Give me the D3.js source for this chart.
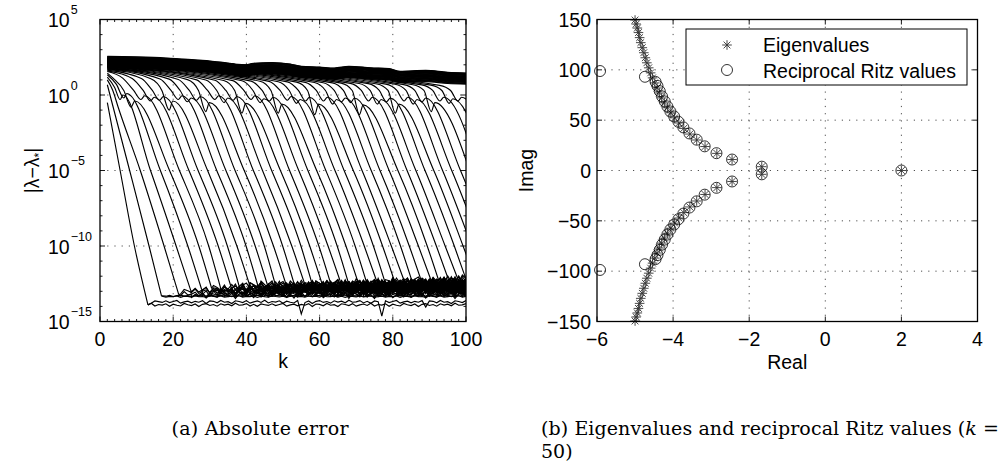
<!DOCTYPE html>
<html>
<head>
<meta charset="utf-8">
<script src="https://cdn.jsdelivr.net/npm/d3@7"></script>
<style>
  body { margin: 0; background: #fff; }
  svg text { font-family: "Liberation Sans", Arial, sans-serif; font-size: 19.5px; fill: #000; }
  svg text.caption { font-family: "DejaVu Serif", serif; font-size: 19px; }
</style>
</head>
<body>
<svg id="fig" width="1000" height="461"></svg>
<script>
// ---------- panel (a): absolute error, values are log10 |lambda - lambda*| ----------
// key points [k, log10 err] of each converging (conjugate pair) error curve
const convergedPaths = [
  [[2, -0.5], [5.5, -5], [9.4, -10], [13.1, -13.9]],
  [[2, 0.68], [8.1, -5], [13.4, -10], [16.8, -13.3]],
  [[2, 1.0], [3.5, 0.3], [4.9, -0.76], [11, -5], [17.5, -10], [21.5, -13.2]],
  [[2, 1.18], [4, 0.5], [5.5, -0.3], [6.3, 0.0], [13.8, -5], [20.8, -10], [24.8, -12.95]],
  [[2, 1.34], [4.5, 0.7], [6.5, -0.2], [7.3, 0.1], [16.5, -5], [24, -10], [27.8, -12.9]],
  [[2, 1.45], [3.5, 1.13], [6.5, 0.3], [8.5, -0.8], [9.5, -0.4], [19, -5], [27, -10], [30.5, -12.8]],
  [[2, 1.56], [6.2, 1.12], [9.2, 0.3], [11.2, -0.3], [12.2, -0.05], [21.7, -5], [29.7, -10], [33.2, -13.0]],
  [[2, 1.6], [8.8, 1.1], [11.8, 0.3], [13.8, -0.4], [14.8, -0.15], [24.3, -5], [32.3, -10], [35.8, -12.7]],
  [[2, 1.65], [11.3, 1.09], [14.3, 0.3], [16.3, -0.35], [17.3, -0.1], [26.8, -5], [34.8, -10], [38.3, -12.9]],
  [[2, 1.7], [13.9, 1.07], [16.9, 0.3], [18.9, -1.0], [19.9, -0.4], [29.4, -5], [37.4, -10], [40.9, -12.6]],
  [[2, 1.72], [16.4, 1.06], [19.4, 0.3], [21.4, -0.3], [22.4, -0.05], [31.9, -5], [39.9, -10], [43.4, -12.85]],
  [[2, 1.75], [18.9, 1.05], [21.9, 0.3], [23.9, -0.45], [24.9, -0.2], [34.4, -5], [42.4, -10], [45.9, -12.7]],
  [[2, 1.78], [21.4, 1.03], [24.4, 0.3], [26.4, -0.35], [27.4, -0.1], [36.9, -5], [44.9, -10], [48.4, -13.0]],
  [[2, 1.8], [23.9, 1.02], [26.9, 0.3], [28.9, -1.1], [29.9, -0.5], [39.4, -5], [47.4, -10], [50.9, -12.6]],
  [[2, 1.83], [26.4, 1.0], [29.4, 0.3], [31.4, -0.3], [32.4, -0.05], [41.9, -5], [49.9, -10], [53.4, -12.8]],
  [[2, 1.86], [28.9, 0.99], [31.9, 0.3], [33.9, -0.5], [34.9, -0.2], [44.4, -5], [52.4, -10], [55.9, -12.5]],
  [[2, 1.88], [31.4, 0.98], [34.4, 0.3], [36.4, -0.35], [37.4, -0.1], [46.9, -5], [54.9, -10], [58.4, -12.9]],
  [[2, 1.9], [33.8, 0.96], [36.8, 0.3], [38.8, -1.2], [39.8, -0.55], [49.3, -5], [57.3, -10], [60.8, -12.6]],
  [[2, 1.93], [36.3, 0.95], [39.3, 0.3], [41.3, -0.3], [42.3, -0.05], [51.8, -5], [59.8, -10], [63.3, -12.7]],
  [[2, 1.96], [38.8, 0.94], [41.8, 0.3], [43.8, -0.5], [44.8, -0.25], [54.3, -5], [62.3, -10], [65.8, -12.45]],
  [[2, 1.98], [41.3, 0.92], [44.3, 0.3], [46.3, -0.4], [47.3, -0.15], [56.8, -5], [64.8, -10], [68.3, -12.8]],
  [[2, 2.0], [43.7, 0.91], [46.7, 0.3], [48.7, -1.2], [49.7, -0.6], [59.2, -5], [67.2, -10], [70.7, -12.55]],
  [[2, 2.03], [46.2, 0.9], [49.2, 0.3], [51.2, -0.35], [52.2, -0.1], [61.7, -5], [69.7, -10], [73.2, -12.7]],
  [[2, 2.05], [48.7, 0.88], [51.7, 0.3], [53.7, -0.55], [54.7, -0.3], [64.2, -5], [72.2, -10], [75.7, -12.4]],
  [[2, 2.08], [51.2, 0.87], [54.2, 0.3], [56.2, -0.4], [57.2, -0.15], [66.7, -5], [74.7, -10], [78.2, -12.65]],
  [[2, 2.1], [53.7, 0.85], [56.7, 0.3], [58.7, -1.3], [59.7, -0.6], [69.2, -5], [77.2, -10], [80.7, -12.5]],
  [[2, 2.12], [56.1, 0.84], [59.1, 0.3], [61.1, -0.4], [62.1, -0.15], [71.6, -5], [79.6, -10], [83.1, -12.3]],
  [[2, 2.15], [58.6, 0.83], [61.6, 0.3], [63.6, -0.6], [64.6, -0.3], [74.1, -5], [82.1, -10], [85.6, -12.6]],
  [[2, 2.17], [61, 0.81], [64, 0.3], [66, -0.45], [67, -0.2], [76.5, -5], [84.5, -10], [88, -12.45]],
  [[2, 2.2], [63.5, 0.8], [66.5, 0.3], [68.5, -0.5], [69.5, -0.2], [79, -5], [87, -10], [90.5, -12.3]],
  [[2, 2.22], [65.9, 0.79], [68.9, 0.3], [70.9, -1.3], [71.9, -0.65], [81.4, -5], [89.4, -10], [92.9, -12.55]],
  [[2, 2.24], [68.4, 0.77], [71.4, 0.3], [73.4, -0.4], [74.4, -0.15], [83.9, -5], [91.9, -10], [95.4, -12.35]],
  [[2, 2.27], [70.8, 0.76], [73.8, 0.3], [75.8, -0.6], [76.8, -0.3], [86.3, -5], [94.3, -10], [97.8, -12.2]],
  [[2, 2.29], [73.3, 0.75], [76.3, 0.3], [78.3, -0.45], [79.3, -0.2], [88.8, -5], [96.8, -10], [100.3, -12.4]],
  [[2, 2.31], [75.7, 0.73], [78.7, 0.3], [80.7, -1.2], [81.7, -0.6], [91.2, -5], [99.2, -10], [102.7, -12.3]],
  [[2, 2.33], [78.1, 0.72], [81.1, 0.3], [83.1, -0.4], [84.1, -0.15], [93.6, -5], [101.6, -10]],
  [[2, 2.35], [80.6, 0.71], [83.6, 0.3], [85.6, -0.6], [86.6, -0.3], [96.1, -5], [104.1, -10]],
  [[2, 2.37], [83, 0.69], [86, 0.3], [88, -0.45], [89, -0.2], [98.5, -5], [106.5, -10]],
  [[2, 2.39], [85.5, 0.68], [88.5, 0.3], [90.5, -1.1], [91.5, -0.5], [101, -5]],
  [[2, 2.41], [87.9, 0.67], [90.9, 0.3], [92.9, -0.4], [93.9, -0.15], [103.4, -5]],
  [[2, 2.43], [90.4, 0.65], [93.4, 0.3], [95.4, -0.55], [96.4, -0.25], [105.9, -5]],
  [[2, 2.45], [92.8, 0.64], [95.8, 0.3], [97.8, -0.4], [98.8, -0.15], [108.3, -5]]
];

// round-off floor reached by the two members of each pair (log10)
const floorA = [-13.9, -13.3, -13.2, -12.95, -12.9, -12.8, -13.0, -12.7, -12.9, -12.6, -12.85, -12.7, -13.0, -12.6,
  -12.8, -12.5, -12.9, -12.6, -12.7, -12.45, -12.8, -12.55, -12.7, -12.4, -12.65, -12.5, -12.3, -12.6, -12.45, -12.3,
  -12.55, -12.35, -12.2, -12.4, -12.3, -12.2, -12.3, -12.2, -12.2, -12.2, -12.2, -12.2];
const floorB = [-13.7, -13.35, -13.0, -13.25, -13.1, -13.1, -12.75, -12.95, -12.65, -12.9, -12.6, -12.95, -12.75, -12.85,
  -12.55, -12.8, -12.6, -12.85, -12.5, -12.75, -12.5, -12.8, -12.45, -12.7, -12.4, -12.6, -12.65, -12.35, -12.6, -12.5,
  -12.3, -12.5, -12.45, -12.2, -12.4, -12.3, -12.3, -12.3, -12.3, -12.3, -12.3, -12.3];
const floorAmp = [0.12, 0.06, 0.2, 0.25, 0.25, 0.3, 0.35, 0.35, 0.35, 0.35, 0.35, 0.35, 0.35, 0.35, 0.35, 0.35, 0.35,
  0.35, 0.35, 0.35, 0.35, 0.35, 0.35, 0.35, 0.35, 0.35, 0.35, 0.35, 0.35, 0.35, 0.35, 0.35, 0.35, 0.35, 0.35, 0.35,
  0.35, 0.35, 0.35, 0.35, 0.35, 0.35];
// step-to-step wobble seen along the floor
const floorJitter = [0.3, -0.5, 0.8, -0.2, 0.1, -0.9, 0.6, 0.2, -0.4, 0.7, -0.7, 0.0, 0.5, -0.3, 0.9, -0.6, 0.2, -0.1,
  0.6, -0.8, 0.4, -0.2, -0.6, 0.8, 0.1, -0.4, 0.5, -0.9, 0.3, 0.7, -0.3, 0.2, -0.7, 0.6, -0.1, 0.4, -0.5, 0.9, -0.2,
  0.0, 0.7, -0.6, 0.3, -0.8, 0.5, 0.1, -0.3, 0.6, -0.4, 0.2, 0.8, -0.7, 0.0, 0.4, -0.5, 0.3, -0.2, 0.7, -0.9, 0.5];
const floorSpikes = [[55, -14.5], [77, -14.65], [89, -14.05]];

// errors still unconverged at k = 100 (dark band at the top)
const bandK = [2, 10, 18, 24, 30, 36, 39, 42, 47, 52, 55, 60, 64, 68, 74, 79, 82, 89, 95, 100];
const bandTop = [2.56, 2.52, 2.45, 2.36, 2.25, 2.08, 1.95, 2.1, 2.15, 2.05, 1.9, 1.85, 1.79, 1.9, 1.8, 1.75, 1.57, 1.63, 1.5, 1.46];
const bandOffsets = [0, 0.02, 0.05, 0.08, 0.1, 0.13, 0.16, 0.19, 0.22, 0.24, 0.27, 0.3, 0.33, 0.36, 0.38, 0.41, 0.44,
  0.47, 0.5, 0.53, 0.56, 0.59, 0.62, 0.66, 0.7, 0.74];

const kTicks = [0, 20, 40, 60, 80, 100];
const errTicks = [5, 0, -5, -10, -15];

// ---------- panel (b): spectrum at k = 50 ----------
// upper half of the complex eigenvalues [Re, Im]; the lower half is the conjugate
const eigUpper = [[-1.67, 3.8], [-2.45, 10.9], [-2.85, 17.0], [-3.16, 23.8], [-3.38, 30.3], [-3.56, 36.2], [-3.72, 41.8],
  [-3.85, 47.2], [-3.96, 52.3], [-4.06, 57.3], [-4.15, 62.3], [-4.23, 67.2], [-4.3, 72.1], [-4.36, 77.0], [-4.42, 82.0],
  [-4.48, 87.0], [-4.54, 92.0], [-4.59, 97.0], [-4.64, 102.0], [-4.69, 107.0], [-4.73, 112.0], [-4.77, 117.0],
  [-4.81, 122.0], [-4.85, 127.0], [-4.88, 132.0], [-4.91, 137.0], [-4.94, 141.5], [-4.97, 145.5], [-5.0, 149.5]];
const eigReal = [[2.0, 0]];
const ritzUpper = [[-1.67, 3.8], [-2.45, 10.9], [-2.86, 17.2], [-3.17, 24.0], [-3.38, 30.6], [-3.57, 36.8], [-3.73, 42.8],
  [-3.86, 48.4], [-3.97, 53.6], [-4.07, 58.6], [-4.15, 63.6], [-4.22, 68.6], [-4.29, 73.6], [-4.35, 78.8], [-4.41, 84.0],
  [-4.46, 88.0], [-4.74, 93.1], [-5.92, 98.8]];
const ritzReal = [[2.0, 0]];

const realTicks = [-6, -4, -2, 0, 2, 4];
const imagTicks = [150, 100, 50, 0, -50, -100, -150];

const legendLabels = ['Eigenvalues', 'Reciprocal Ritz values'];

const svg = d3.select('#fig');
const fmt = (v) => (v < 0 ? '\u2212' + -v : String(v));

// dotted MATLAB style grid
function gridLine(g, x1, y1, x2, y2) {
  g.append('line')
    .attr('x1', x1).attr('y1', y1).attr('x2', x2).attr('y2', y2)
    .attr('stroke', '#222')
    .attr('stroke-width', 0.8)
    .attr('stroke-dasharray', '1.2,6');
}

function tick(g, x1, y1, x2, y2) {
  g.append('line')
    .attr('x1', x1).attr('y1', y1).attr('x2', x2).attr('y2', y2)
    .attr('stroke', '#000')
    .attr('stroke-width', 0.9);
}

function drawBox(g, box) {
  g.append('rect')
    .attr('x', box.left).attr('y', box.top)
    .attr('width', box.right - box.left).attr('height', box.bottom - box.top)
    .attr('fill', 'none')
    .attr('stroke', '#000')
    .attr('stroke-width', 1.3);
}

// ================= panel (a) =================
function drawErrorPanel() {
  const box = { left: 100, right: 466, top: 19.5, bottom: 321.5 };
  const x = d3.scaleLinear().domain([0, 100]).range([box.left, box.right]);
  const y = d3.scaleLog().domain([1e-15, 1e5]).range([box.bottom, box.top]);

  const g = svg.append('g');
  g.append('clipPath').attr('id', 'clipA')
    .append('rect')
    .attr('x', box.left).attr('y', box.top)
    .attr('width', box.right - box.left).attr('height', box.bottom - box.top);

  kTicks.slice(1, -1).forEach((k) => gridLine(g, x(k), box.top, x(k), box.bottom));
  errTicks.slice(1, -1).forEach((e) => gridLine(g, box.left, y(10 ** e), box.right, y(10 ** e)));

  const data = g.append('g').attr('clip-path', 'url(#clipA)')
    .attr('fill', 'none').attr('stroke', '#000').attr('stroke-width', 1.15);

  const smooth = d3.line()
    .x((d) => x(d[0]))
    .y((d) => y(10 ** d[1]))
    .curve(d3.curveMonotoneX);
  const jagged = d3.line()
    .x((d) => x(d[0]))
    .y((d) => y(10 ** d[1]));

  // band of unconverged errors
  bandOffsets.forEach((off) => {
    data.append('path').attr('d', smooth(bandK.map((k, m) => [k, bandTop[m] - off])));
  });

  // converging pairs: common descent, then two noisy floors
  convergedPaths.forEach((pts, i) => {
    data.append('path').attr('d', smooth(pts));
    const last = pts[pts.length - 1];
    if (last[0] >= 100) return;
    [floorA[i], floorB[i]].forEach((lvl, s) => {
      const fl = [last];
      for (let k = Math.floor(last[0]) + 1; k <= 100; k++) {
        let v = lvl + floorJitter[(k + 7 * i + 29 * s) % floorJitter.length] * floorAmp[i];
        if (i === 0 && s === 1) {
          const sp = floorSpikes.find((d) => d[0] === k);
          if (sp) v = sp[1];
        }
        fl.push([k, v]);
      }
      data.append('path').attr('d', jagged(fl));
    });
  });

  // ticks
  d3.range(0, 101, 2).forEach((k) => {
    const len = kTicks.includes(k) ? 5 : 2.5;
    tick(g, x(k), box.bottom, x(k), box.bottom - len);
    tick(g, x(k), box.top, x(k), box.top + len);
  });
  d3.range(-15, 6).forEach((e) => {
    const len = errTicks.includes(e) ? 5 : 2.5;
    tick(g, box.left, y(10 ** e), box.left + len, y(10 ** e));
    tick(g, box.right, y(10 ** e), box.right - len, y(10 ** e));
  });
  drawBox(g, box);

  kTicks.forEach((k) => {
    g.append('text').attr('x', x(k)).attr('y', 346).attr('text-anchor', 'middle').text(k);
  });
  errTicks.forEach((e) => {
    const t = g.append('text').attr('x', 48).attr('y', y(10 ** e) + 7.5);
    t.append('tspan').text('10');
    t.append('tspan').attr('dy', -13).attr('dx', 1).style('font-size', '12.5px').text(fmt(e));
  });

  g.append('text').attr('x', x(50)).attr('y', 368).attr('text-anchor', 'middle').text('k');

  const yl = g.append('text')
    .attr('transform', `translate(39,${(box.top + box.bottom) / 2}) rotate(-90)`)
    .attr('text-anchor', 'middle');
  yl.append('tspan').text('|\u03bb\u2212\u03bb');
  yl.append('tspan').attr('dy', 4).style('font-size', '12px').text('*');
  yl.append('tspan').attr('dy', -4).text('|');

  g.append('text').attr('class', 'caption')
    .attr('x', 171.5).attr('y', 435)
    .attr('textLength', 177).attr('lengthAdjust', 'spacing')
    .text('(a) Absolute error');
}

// ================= panel (b) =================
function drawSpectrumPanel() {
  const box = { left: 597, right: 977.5, top: 19.5, bottom: 321.5 };
  const x = d3.scaleLinear().domain([-6, 4]).range([box.left, box.right]);
  const y = d3.scaleLinear().domain([-150, 150]).range([box.bottom, box.top]);

  const g = svg.append('g');
  realTicks.slice(1, -1).forEach((r) => gridLine(g, x(r), box.top, x(r), box.bottom));
  imagTicks.slice(1, -1).forEach((m) => gridLine(g, box.left, y(m), box.right, y(m)));

  const eigenvalues = eigUpper.concat(eigUpper.map((d) => [d[0], -d[1]]), eigReal);
  const ritz = ritzUpper.concat(ritzUpper.map((d) => [d[0], -d[1]]), ritzReal);

  const star = 'M-4.8,0H4.8M0,-4.8V4.8M-3.4,-3.4L3.4,3.4M-3.4,3.4L3.4,-3.4';

  g.append('g').selectAll('path')
    .data(eigenvalues)
    .join('path')
    .attr('transform', (d) => `translate(${x(d[0])},${y(d[1])})`)
    .attr('d', star)
    .attr('fill', 'none')
    .attr('stroke', '#333')
    .attr('stroke-width', 0.9);

  g.append('g').selectAll('circle')
    .data(ritz)
    .join('circle')
    .attr('cx', (d) => x(d[0]))
    .attr('cy', (d) => y(d[1]))
    .attr('r', 5.5)
    .attr('fill', 'none')
    .attr('stroke', '#000')
    .attr('stroke-width', 0.8);

  realTicks.forEach((r) => {
    tick(g, x(r), box.bottom, x(r), box.bottom - 5);
    tick(g, x(r), box.top, x(r), box.top + 5);
    g.append('text').attr('x', x(r)).attr('y', 346).attr('text-anchor', 'middle').text(fmt(r));
  });
  imagTicks.forEach((m) => {
    tick(g, box.left, y(m), box.left + 5, y(m));
    tick(g, box.right, y(m), box.right - 5, y(m));
    g.append('text').attr('x', 591).attr('y', y(m) + 7).attr('text-anchor', 'end').text(fmt(m));
  });
  drawBox(g, box);

  g.append('text').attr('x', x(-1)).attr('y', 369).attr('text-anchor', 'middle').text('Real');
  g.append('text')
    .attr('transform', `translate(533,${(box.top + box.bottom) / 2}) rotate(-90)`)
    .attr('text-anchor', 'middle')
    .text('Imag');

  // legend
  const lg = g.append('g');
  lg.append('rect')
    .attr('x', 686).attr('y', 29).attr('width', 281).attr('height', 56)
    .attr('fill', '#fff').attr('stroke', '#000').attr('stroke-width', 1);
  lg.append('path')
    .attr('transform', 'translate(727,45)')
    .attr('d', star).attr('fill', 'none').attr('stroke', '#333').attr('stroke-width', 0.9);
  lg.append('circle')
    .attr('cx', 727).attr('cy', 70).attr('r', 5.5)
    .attr('fill', 'none').attr('stroke', '#000').attr('stroke-width', 0.8);
  legendLabels.forEach((s, i) => {
    lg.append('text').attr('x', 763).attr('y', 52 + i * 25.5).text(s);
  });

  const cap = g.append('text').attr('class', 'caption')
    .attr('x', 541).attr('y', 435)
    .attr('textLength', 458).attr('lengthAdjust', 'spacing');
  cap.append('tspan').text('(b) Eigenvalues and reciprocal Ritz values (');
  cap.append('tspan').style('font-style', 'italic').text('k');
  cap.append('tspan').text(' =');
  g.append('text').attr('class', 'caption').attr('x', 541).attr('y', 458).text('50)');
}

drawErrorPanel();
drawSpectrumPanel();
</script>
</body>
</html>
